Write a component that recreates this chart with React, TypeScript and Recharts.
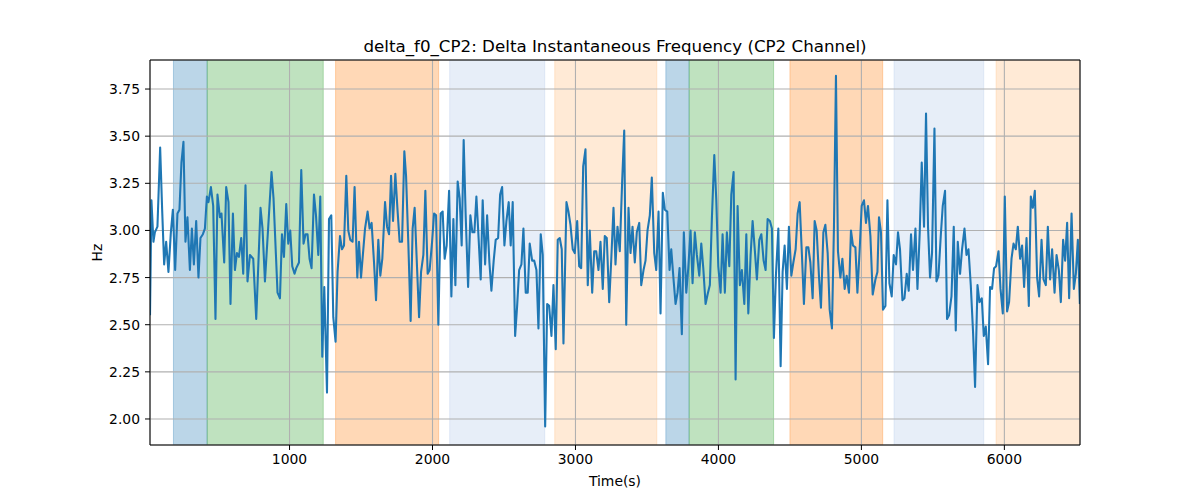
import React from 'react';
import {
  LineChart,
  Line,
  XAxis,
  YAxis,
  CartesianGrid,
  ReferenceArea,
  Label,
} from 'recharts';

const TITLE = 'delta_f0_CP2: Delta Instantaneous Frequency (CP2 Channel)';
const X_LABEL = 'Time(s)';
const Y_LABEL = 'Hz';

const xTicks = [1000, 2000, 3000, 4000, 5000, 6000];
const yTicks = [2.0, 2.25, 2.5, 2.75, 3.0, 3.25, 3.5, 3.75];
const xDomain = [24, 6529];
const yDomain = [1.862, 3.904];

// shaded segments
const spanStart = [188, 424, 1322, 2120, 2855, 3632, 3795, 4500, 5228, 5942];
const spanEnd = [424, 1236, 2043, 2785, 3569, 3795, 4386, 5149, 5856, 6529];
const spanColor = [
  '#1f77b4', '#2ca02c', '#ff7f0e', '#aec7e8', '#ffbb78',
  '#1f77b4', '#2ca02c', '#ff7f0e', '#aec7e8', '#ffbb78',
];

const times = [
  24, 34, 48, 58, 76, 95, 109, 123, 137, 153, 170, 184, 200, 216, 230, 244, 258, 272, 286, 303, 317, 331, 347, 363, 377, 394, 408, 422, 433, 450, 466, 482, 496, 513, 524, 543, 557, 573, 587, 604, 618, 632, 646, 662, 676, 692, 706, 723,
  746, 767, 797, 811, 828, 851, 874, 888, 916, 933, 947, 961, 977, 991, 1005, 1019, 1035, 1047, 1066, 1082, 1098, 1112, 1126, 1140, 1154, 1171, 1185, 1201, 1215, 1229, 1243, 1262, 1276, 1292, 1306, 1322, 1336, 1353, 1367, 1381, 1397, 1411, 1425, 1441, 1455,
  1474, 1486, 1500, 1528, 1546, 1560, 1574, 1591, 1605, 1621, 1635, 1649, 1668, 1682, 1696, 1710, 1724, 1740, 1756, 1770, 1787, 1803, 1815, 1831, 1847, 1861, 1875, 1892, 1906, 1920, 1936, 1950, 1966, 1980, 1997, 2011, 2025, 2041, 2057, 2071, 2085, 2099, 2116, 2132, 2146, 2160, 2176,
  2190, 2204, 2218, 2232, 2249, 2265, 2279, 2293, 2307, 2323, 2337, 2351, 2368, 2382, 2398, 2412, 2428, 2442, 2459, 2473, 2487, 2503, 2517, 2533, 2547, 2561, 2578, 2592, 2606, 2622, 2636, 2652, 2666, 2680, 2697, 2711, 2727, 2741, 2757, 2771, 2788, 2802, 2816, 2832, 2846, 2862, 2876, 2890, 2904, 2916,
  2937, 2951, 2965, 2981, 2995, 3012, 3026, 3040, 3054, 3070, 3086, 3100, 3117, 3131, 3145, 3161, 3175, 3191, 3205, 3219, 3236, 3250, 3266, 3280, 3294, 3310, 3327, 3341, 3355, 3371, 3385, 3399, 3415, 3429, 3446, 3460, 3476, 3490, 3504, 3520, 3534, 3551, 3565, 3581, 3595, 3611, 3625, 3642,
  3658, 3670, 3686, 3700, 3714, 3728, 3744, 3758, 3775, 3789, 3805, 3819, 3835, 3849, 3866, 3880, 3894, 3910, 3924, 3940, 3954, 3971, 3985, 3999, 4015, 4029, 4045, 4059, 4076, 4090, 4106, 4120, 4134, 4150, 4164, 4181, 4195, 4209, 4225, 4239, 4255, 4269, 4286, 4300, 4316, 4330, 4344, 4360,
  4374, 4388, 4402, 4419, 4435, 4449, 4463, 4479, 4493, 4510, 4524, 4540, 4554, 4568, 4584, 4598, 4615, 4629, 4643, 4659, 4673, 4687, 4703, 4717, 4734, 4748, 4764, 4778, 4794, 4808, 4822, 4836, 4853, 4867, 4883, 4897, 4913, 4927, 4941, 4958, 4972, 4988, 5002, 5018, 5032, 5046, 5063, 5079, 5098,
  5112, 5123, 5137, 5151, 5168, 5182, 5196, 5212, 5226, 5242, 5256, 5270, 5287, 5301, 5317, 5331, 5347, 5361, 5378, 5392, 5408, 5422, 5438, 5452, 5466, 5480, 5494, 5511, 5525, 5539, 5555, 5569, 5585, 5599, 5613, 5630, 5646, 5660, 5674, 5690, 5704, 5721, 5735, 5749, 5765, 5781, 5795, 5812, 5826,
  5842, 5856, 5870, 5886, 5900, 5914, 5928, 5942, 5959, 5973, 5989, 6003, 6019, 6033, 6050, 6064, 6080, 6094, 6110, 6124, 6138, 6155, 6171, 6185, 6199, 6213, 6229, 6243, 6260, 6274, 6290, 6304, 6320, 6334, 6351, 6365, 6381, 6395, 6411, 6425, 6439, 6453, 6470, 6486, 6500, 6514, 6528,
];

const values = [
  2.55, 3.16, 2.94, 2.99, 3.02, 3.44, 3.11, 2.82, 2.94, 2.78, 2.99, 3.11, 2.79, 3.09, 3.11, 3.36, 3.47, 2.94, 3.07, 2.79, 3.01, 2.82, 3.05, 2.75, 2.96, 2.98, 3.01, 3.18, 3.15, 3.23, 3.13, 2.53, 3.19, 3.07, 3.09, 2.83, 3.23, 3.15, 2.61, 3.09, 2.79, 2.88, 2.86, 2.96, 2.77, 3.24, 2.73, 2.87,
  2.85, 2.53, 3.12, 3.01, 2.73, 3.02, 3.31, 3.17, 2.67, 2.64, 2.98, 2.86, 3.14, 2.93, 3.0, 2.81, 2.77, 2.8, 2.83, 3.32, 2.93, 2.98, 2.98, 2.85, 2.8, 3.19, 3.08, 2.87, 3.18, 2.33, 2.7, 2.14, 3.06, 3.08, 2.54, 2.41, 2.78, 2.97, 2.9, 2.92, 3.29, 3.0, 2.95, 2.94, 3.23,
  2.75, 2.94, 2.75, 3.01, 3.1, 3.01, 3.04, 2.83, 2.63, 2.95, 2.76, 2.85, 3.15, 3.02, 2.98, 3.29, 3.05, 3.3, 3.1, 2.94, 2.94, 3.42, 3.29, 2.93, 2.52, 3.01, 3.12, 2.8, 2.54, 2.78, 2.87, 3.21, 2.77, 2.79, 2.94, 3.09, 3.08, 2.5, 3.09, 3.1, 2.85, 2.92, 3.21, 2.65, 3.06, 2.71, 3.26,
  3.17, 2.92, 3.48, 3.08, 2.7, 3.08, 2.99, 2.99, 3.18, 2.95, 2.74, 3.16, 2.82, 3.08, 2.83, 2.68, 2.84, 2.95, 2.96, 3.19, 3.23, 2.92, 3.05, 3.15, 2.92, 3.15, 2.44, 2.6, 2.79, 2.82, 3.01, 2.67, 2.67, 2.93, 2.84, 2.84, 2.79, 2.48, 2.98, 2.87, 1.96, 2.61, 2.6, 2.44, 2.71, 2.37, 2.95, 2.96, 2.9, 2.4,
  3.15, 3.1, 3.03, 2.9, 2.88, 3.05, 2.81, 2.8, 3.34, 3.43, 2.71, 3.0, 2.67, 2.89, 2.89, 2.79, 2.94, 2.69, 2.97, 2.96, 2.62, 2.84, 3.12, 2.82, 3.02, 2.89, 3.27, 3.53, 2.5, 3.12, 2.88, 3.02, 2.83, 2.99, 3.04, 2.71, 2.79, 2.84, 3.0, 3.08, 3.28, 2.88, 2.79, 3.1, 2.56, 3.2, 3.11, 3.1,
  2.79, 2.9, 2.74, 2.61, 2.67, 2.8, 2.45, 2.99, 2.67, 2.8, 3.0, 2.72, 2.99, 2.87, 2.76, 2.93, 2.8, 2.61, 2.66, 2.71, 3.06, 3.4, 3.16, 2.81, 2.67, 2.98, 2.67, 2.99, 2.81, 3.19, 3.31, 2.21, 3.13, 2.71, 2.79, 2.61, 2.98, 2.56, 2.87, 3.05, 2.89, 2.74, 2.95, 2.98, 2.84, 2.79, 3.06, 3.05,
  3.01, 2.43, 2.76, 3.01, 2.28, 2.78, 2.92, 2.69, 3.02, 2.76, 2.83, 2.9, 3.09, 3.15, 2.87, 2.61, 2.91, 2.91, 2.83, 2.64, 3.05, 3.0, 2.76, 2.59, 2.99, 3.03, 2.88, 2.58, 2.48, 3.02, 3.82, 2.89, 2.75, 2.85, 2.69, 2.76, 2.67, 3.0, 2.92, 2.91, 2.67, 2.9, 3.13, 3.16, 3.04, 3.13, 2.97, 2.66, 2.74,
  2.78, 3.07, 2.99, 2.58, 2.6, 3.16, 2.72, 2.65, 2.87, 2.82, 2.99, 2.9, 2.63, 2.64, 2.77, 2.68, 2.98, 2.79, 3.01, 2.69, 2.99, 3.36, 3.02, 3.62, 3.02, 2.75, 2.88, 3.54, 2.73, 2.76, 2.97, 3.13, 3.21, 2.53, 2.55, 2.65, 3.02, 2.47, 2.94, 2.77, 2.9, 3.01, 2.87, 2.9, 2.71, 2.46, 2.17, 2.71, 2.62,
  2.64, 2.44, 2.49, 2.29, 2.7, 2.69, 2.8, 2.81, 2.89, 2.69, 2.56, 3.18, 2.57, 2.62, 2.85, 2.93, 2.9, 3.02, 2.85, 2.92, 2.7, 2.96, 2.6, 3.18, 3.12, 3.21, 2.75, 2.65, 2.95, 2.74, 2.71, 3.02, 2.74, 2.9, 2.67, 2.87, 2.79, 2.62, 2.95, 2.84, 3.04, 2.64, 3.09, 2.69, 2.77, 2.95, 2.61,
];

const data = times.map((t, i) => ({ t, v: values[i] }));

const FONT = '"DejaVu Sans", sans-serif';
const TICK_FONT = 13.9;

const HzLabel = (props: any) => {
  const vb = props.viewBox || { x: 0, y: 60, width: 150, height: 385 };
  const cx = vb.x + 97;
  const cy = vb.y + vb.height / 2;
  return (
    <text
      x={cx}
      y={cy}
      transform={`rotate(-90, ${cx}, ${cy})`}
      textAnchor="middle"
      dominantBaseline="central"
      fontSize={TICK_FONT}
      fontFamily={FONT}
      fill="#000"
    >
      {Y_LABEL}
    </text>
  );
};

const TitleLabel = (props: any) => {
  const vb = props.viewBox || { x: 150, y: 59, width: 930, height: 1 };
  const cx = vb.x + vb.width / 2;
  return (
    <text
      x={cx}
      y={52}
      textAnchor="middle"
      fontSize={16.7}
      fontFamily={FONT}
      fill="#000"
    >
      {TITLE}
    </text>
  );
};

export default function App() {
  return (
    <div
      style={{
        position: 'absolute',
        left: 0,
        top: 0,
        width: 1200,
        height: 500,
        background: '#fff',
        fontFamily: FONT,
      }}
    >
      <LineChart
        width={1200}
        height={500}
        data={data}
        margin={{ top: 59, right: 119, bottom: 0, left: 0 }}
        style={{ fontFamily: FONT }}
      >
        <CartesianGrid stroke="#b0b0b0" strokeWidth={1.1} {...({ zIndex: 150 } as any)} />
        {spanStart.map((s, i) => (
          <ReferenceArea
            key={i}
            x1={s}
            x2={spanEnd[i]}
            fill={spanColor[i]}
            fillOpacity={0.3}
            stroke={spanColor[i]}
            strokeOpacity={0.3}
            strokeWidth={1}
            ifOverflow="hidden"
          />
        ))}
        <XAxis
          dataKey="t"
          type="number"
          domain={xDomain}
          ticks={xTicks}
          allowDataOverflow
          height={55}
          tickSize={5}
          tickMargin={4}
          stroke="#000"
          tick={{ fill: '#000', fontSize: TICK_FONT, fontFamily: FONT }}
        >
          <Label
            value={X_LABEL}
            position="insideBottom"
            offset={14}
            style={{ fontSize: TICK_FONT, fontFamily: FONT, fill: '#000' }}
          />
        </XAxis>
        <XAxis
          xAxisId="top"
          orientation="top"
          dataKey="t"
          type="number"
          domain={xDomain}
          allowDataOverflow
          height={1}
          tick={false}
          tickLine={false}
          stroke="#000"
          label={{ content: TitleLabel } as any}
        />
        <YAxis
          type="number"
          domain={yDomain}
          ticks={yTicks}
          allowDataOverflow
          width={150}
          tickSize={5}
          tickMargin={5}
          stroke="#000"
          tickFormatter={(v: number) => v.toFixed(2)}
          tick={{ fill: '#000', fontSize: TICK_FONT, fontFamily: FONT }}
          label={{ content: HzLabel } as any}
        />
        <YAxis
          yAxisId="right"
          orientation="right"
          type="number"
          domain={yDomain}
          allowDataOverflow
          width={1}
          tick={false}
          tickLine={false}
          stroke="#000"
        />
        <Line
          type="linear"
          dataKey="v"
          stroke="#1f77b4"
          strokeWidth={2.08}
          dot={false}
          activeDot={false}
          isAnimationActive={false}
          strokeLinejoin="round"
        />
      </LineChart>
    </div>
  );
}
